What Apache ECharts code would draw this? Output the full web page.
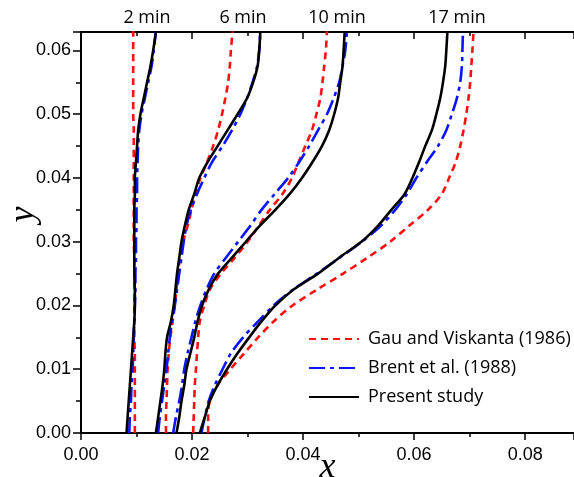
<!DOCTYPE html>
<html>
<head>
<meta charset="utf-8">
<script src="https://cdn.jsdelivr.net/npm/echarts@6/dist/echarts.min.js"></script>
<style>
  html, body { margin: 0; padding: 0; background: #fff; }
  #chart { width: 574px; height: 477px; }
</style>
</head>
<body>
<div id="chart"></div>
<script>
// vertical profiles: x read at each y level
var yLevels = [0, 0.0025, 0.005, 0.0075, 0.01, 0.0125, 0.015, 0.0175, 0.02, 0.0225, 0.025, 0.0275,
               0.03, 0.0325, 0.035, 0.0375, 0.04, 0.0425, 0.045, 0.0475, 0.05, 0.0525, 0.055, 0.0575, 0.06, 0.063];

var times = ['2 min', '6 min', '10 min', '17 min'];

// Gau and Viskanta (1986)
var gau2  = [.0097,.0097,.0097,.0097,.0097,.0097,.0096,.0096,.0096,.0096,.0096,.0096,.0095,.0095,.0095,.0095,.0095,.0095,.0095,.0095,.0094,.0094,.0094,.0094,.0094,.0094];
var gau6  = [.0153,.0153,.0154,.0155,.0156,.0158,.0161,.0165,.0169,.0172,.0175,.0178,.0184,.0192,.0199,.0206,.0215,.0227,.0238,.0247,.0254,.0260,.0265,.0268,.0270,.0273];
var gau10 = [.0202,.0203,.0204,.0205,.0207,.0209,.0211,.0214,.0222,.0232,.0252,.0277,.0300,.0320,.0340,.0363,.0380,.0392,.0404,.0416,.0424,.0431,.0435,.0438,.0441,.0443];
var gau17 = [.0229,.0229,.0232,.0246,.0269,.0294,.0319,.0347,.0381,.0425,.0472,.0516,.0557,.0591,.0625,.0650,.0663,.0675,.0683,.0689,.0694,.0698,.0701,.0703,.0705,.0707];

// Brent et al. (1988)
var brent2  = [.0087,.0088,.0090,.0091,.0093,.0094,.0095,.0096,.0097,.0098,.0098,.0099,.0099,.0100,.0100,.0101,.0101,.0102,.0103,.0105,.0109,.0115,.0121,.0127,.0131,.0135];
var brent6  = [.0139,.0142,.0146,.0150,.0154,.0157,.0160,.0164,.0169,.0173,.0177,.0181,.0185,.0190,.0198,.0209,.0222,.0236,.0255,.0272,.0287,.0299,.0309,.0317,.0321,.0323];
var brent10 = [.0166,.0171,.0177,.0182,.0186,.0192,.0199,.0206,.0215,.0226,.0240,.0261,.0283,.0305,.0325,.0349,.0373,.0393,.0411,.0427,.0443,.0455,.0465,.0471,.0476,.0479];
var brent17 = [.0217,.0223,.0230,.0241,.0255,.0270,.0292,.0319,.0347,.0382,.0425,.0466,.0506,.0540,.0566,.0587,.0604,.0623,.0643,.0658,.0668,.0677,.0683,.0686,.0687,.0688];

// Present study
var present2  = [.0082,.0084,.0086,.0088,.0090,.0092,.0094,.0096,.0097,.0097,.0096,.0096,.0096,.0096,.0096,.0097,.0097,.0099,.0101,.0103,.0107,.0113,.0119,.0125,.0130,.0135];
var present6  = [.0135,.0139,.0143,.0147,.0150,.0152,.0155,.0162,.0167,.0170,.0173,.0177,.0181,.0187,.0194,.0204,.0213,.0228,.0246,.0264,.0282,.0299,.0310,.0318,.0321,.0323];
var present10 = [.0172,.0177,.0181,.0186,.0190,.0197,.0204,.0210,.0218,.0230,.0247,.0272,.0297,.0322,.0350,.0376,.0398,.0417,.0434,.0447,.0456,.0463,.0467,.0471,.0473,.0475];
var present17 = [.0214,.0223,.0232,.0246,.0263,.0282,.0303,.0325,.0350,.0383,.0427,.0465,.0505,.0535,.0559,.0583,.0597,.0609,.0620,.0632,.0640,.0647,.0652,.0656,.0658,.0660];

var NAME_GAU = 'Gau and Viskanta (1986)';
var NAME_BRENT = 'Brent et al. (1988)';
var NAME_PRESENT = 'Present study';

var myChart = echarts.init(document.getElementById('chart'), null, { renderer: 'canvas' });

function pairs(xs) {
    return xs.map(function (x, i) { return [x, yLevels[i]]; });
}

function profile(name, xs, color, type) {
    return {
        name: name,
        type: 'line',
        data: pairs(xs),
        symbol: 'none',
        smooth: 0.3,
        lineStyle: { color: color, width: 2.6, type: type },
        itemStyle: { color: color }
    };
}

var series = [];
[gau2, gau6, gau10, gau17].forEach(function (xs) {
    series.push(profile(NAME_GAU, xs, '#ff1010', [7, 5]));
});
[brent2, brent6, brent10, brent17].forEach(function (xs) {
    series.push(profile(NAME_BRENT, xs, '#0a14ff', [16, 5, 4, 5]));
});
[present2, present6, present10, present17].forEach(function (xs) {
    series.push(profile(NAME_PRESENT, xs, '#000000', 'solid'));
});

var labelX = [147, 243, 337, 457];
var timeLabels = times.map(function (t, i) {
    return {
        type: 'text',
        x: labelX[i],
        y: 18,
        style: {
            text: t,
            fill: '#000',
            font: '18px "Open Sans"',
            textAlign: 'center',
            textVerticalAlign: 'middle'
        }
    };
});

var axisFont = { color: '#000', fontSize: 18, fontFamily: 'Liberation Sans, Arial' };
var tickFmt = function (v) { return v.toFixed(2); };
var titleFont = { fontSize: 36, fontStyle: 'italic', fontFamily: 'Liberation Serif, Times New Roman', color: '#000' };

var option = {
    animation: false,
    backgroundColor: '#fff',
    grid: { left: 81, right: 0, top: 32, bottom: 44, containLabel: false, outerBoundsMode: 'none' },
    legend: {
        data: [NAME_GAU, NAME_BRENT, NAME_PRESENT],
        orient: 'vertical',
        left: 308,
        top: 330,
        padding: 0,
        itemWidth: 50,
        itemHeight: 14,
        itemGap: 11,
        itemStyle: { opacity: 0 },
        textStyle: { fontSize: 18, fontFamily: 'Open Sans', color: '#000', padding: [0, 0, 0, 4] }
    },
    xAxis: [{
        type: 'value',
        min: 0,
        max: 0.0888,
        interval: 0.02,
        name: 'x',
        nameLocation: 'middle',
        nameGap: 17,
        nameMoveOverlap: false,
        nameTextStyle: titleFont,
        axisLine: { lineStyle: { color: '#000', width: 2 } },
        axisTick: { length: 7, lineStyle: { color: '#000', width: 1.5 } },
        minorTick: { show: true, splitNumber: 2, length: 4, lineStyle: { color: '#000', width: 1.5 } },
        axisLabel: Object.assign({ margin: 13, showMaxLabel: false, formatter: tickFmt }, axisFont),
        splitLine: { show: false }
    }, {
        type: 'value',
        position: 'top',
        min: 0,
        max: 0.0888,
        interval: 0.02,
        axisLine: { lineStyle: { color: '#000', width: 2 } },
        axisTick: { inside: true, length: 7, lineStyle: { color: '#000', width: 1.5 } },
        minorTick: { show: true, splitNumber: 2, length: 4, lineStyle: { color: '#000', width: 1.5 } },
        axisLabel: { show: false },
        splitLine: { show: false }
    }],
    yAxis: {
        type: 'value',
        min: 0,
        max: 0.0629,
        interval: 0.01,
        name: 'y',
        nameLocation: 'middle',
        nameGap: 39,
        nameMoveOverlap: false,
        nameTextStyle: Object.assign({ padding: [0, 0, 0, 36] }, titleFont),
        axisLine: { lineStyle: { color: '#000', width: 2 } },
        axisTick: { length: 8, lineStyle: { color: '#000', width: 1.5 } },
        minorTick: { show: true, splitNumber: 2, length: 5, lineStyle: { color: '#000', width: 1.5 } },
        axisLabel: Object.assign({ margin: 10, showMaxLabel: false, formatter: tickFmt }, axisFont),
        splitLine: { show: false }
    },
    graphic: timeLabels,
    series: series
};

myChart.setOption(option);
</script>
</body>
</html>
